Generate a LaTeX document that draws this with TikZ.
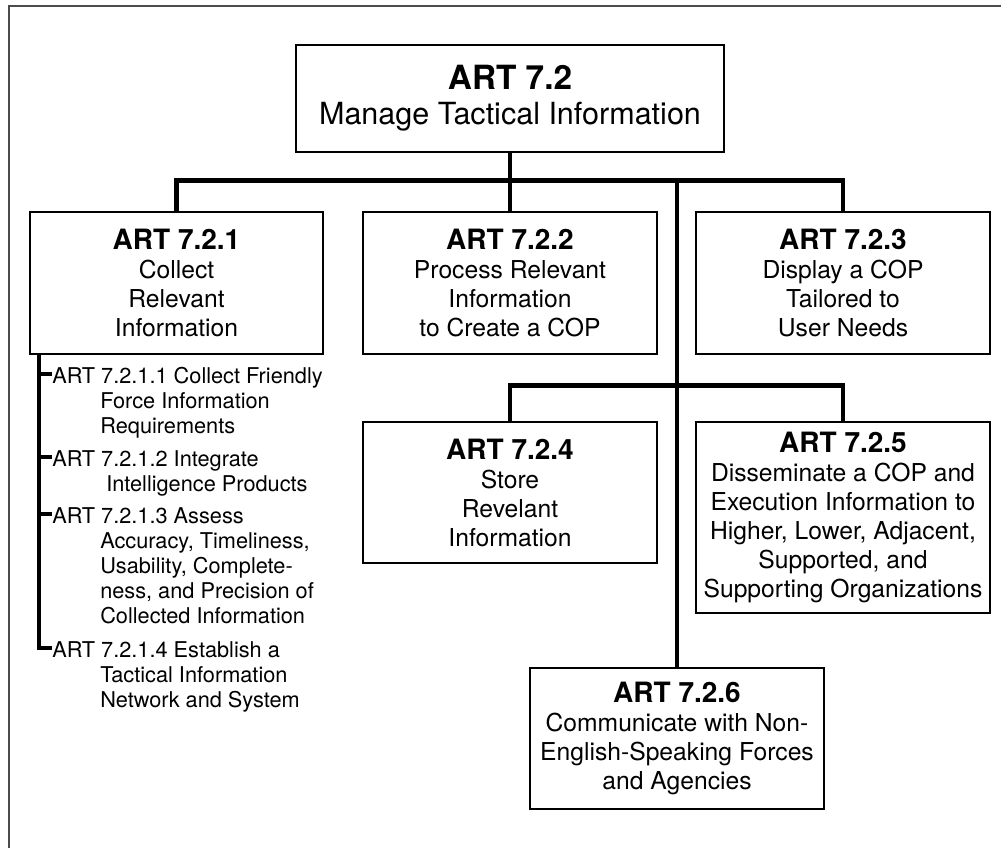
\documentclass[tikz,border=0pt]{standalone}
\usepackage{fontspec}
\setmainfont{TeX Gyre Heros}
\usetikzlibrary{positioning}

\newcommand{\arttitle}[1]{{\fontsize{21}{26}\selectfont\bfseries #1}}

\begin{document}
\begin{tikzpicture}[x=0.75pt,y=-0.75pt,
  artbox/.style={draw,line width=2pt,align=center,inner sep=0pt,
    minimum width=220.5pt,minimum height=106.5pt,
    font=\fontsize{18.5}{21.75}\selectfont},
  conn/.style={line width=3.6pt},
  spine/.style={line width=3pt},
  subitem/.style={align=left,inner sep=0pt,anchor=north west,
    font=\fontsize{16.3}{18.75}\selectfont}]
\useasboundingbox (0,0) rectangle (1001,848);

% Frame
\draw[gray!60!black,line width=1.1pt] (9,848) -- (9,6) -- (1001,6);

% Root
\node[artbox,minimum width=321pt,minimum height=80.25pt,
  font=\fontsize{22.9}{26}\selectfont] (root) at (510,98.5)
  {{\fontsize{25}{26}\selectfont\bfseries ART 7.2}\\Manage Tactical Information};

% First row
\node[artbox,minimum width=219.75pt] (a1) at (176.5,283)
  {\arttitle{ART 7.2.1}\\Collect\\Relevant\\Information};
\node[artbox] (a2) at (510,283)
  {\arttitle{ART 7.2.2}\\Process Relevant\\Information\\to Create a COP};
\node[artbox] (a3) at (843,283)
  {\arttitle{ART 7.2.3}\\Display a COP\\Tailored to\\User Needs};

% Second row
\node[artbox,minimum height=105.75pt] (a4) at (510,492.5)
  {\arttitle{ART 7.2.4}\\Store\\Revelant\\Information};
\node[artbox,minimum height=143.25pt] (a5) at (843,517.5)
  {\arttitle{ART 7.2.5}\\Disseminate a COP and\\Execution Information to\\
   Higher, Lower, Adjacent,\\Supported, and\\Supporting Organizations};
\node[artbox,minimum height=105.75pt] (a6) at (677,738.5)
  {\arttitle{ART 7.2.6}\\Communicate with Non-\\English-Speaking Forces\\and Agencies};

% Connectors
\draw[conn] (a1.north) -- ++(0,-30) coordinate (busL) -| (a3.north);
\draw[conn] (root.south) -- (a2.north);
\draw[conn] (a6.north) -- (a6.north |- busL);
\draw[conn] (a4.north) -- ++(0,-35) -| (a5.north);

% Sub-tasks of ART 7.2.1
\node[subitem] (s1) at (52,367)
  {ART 7.2.1.1 Collect Friendly\\\hspace*{36pt}Force Information\\\hspace*{36pt}Requirements};
\node[subitem] (s2) at (52,450)
  {ART 7.2.1.2 Integrate\\\hspace*{40.5pt}Intelligence Products};
\node[subitem] (s3) at (52,507)
  {ART 7.2.1.3 Assess\\\hspace*{36pt}Accuracy, Timeliness,\\\hspace*{36pt}Usability, Complete-\\
   \hspace*{36pt}ness, and Precision of\\\hspace*{36pt}Collected Information};
\node[subitem] (s4) at (52,641)
  {ART 7.2.1.4 Establish a\\\hspace*{36pt}Tactical Information\\\hspace*{36pt}Network and System};

\coordinate (spinetop) at (39,354);
\draw[spine] (spinetop) |- ([yshift=-5.25pt]s4.north west);
\foreach \s in {s1,s2,s3}
  \draw[spine] ([yshift=-5.25pt]\s.north west) -- ++(-13,0);
\end{tikzpicture}
\end{document}
